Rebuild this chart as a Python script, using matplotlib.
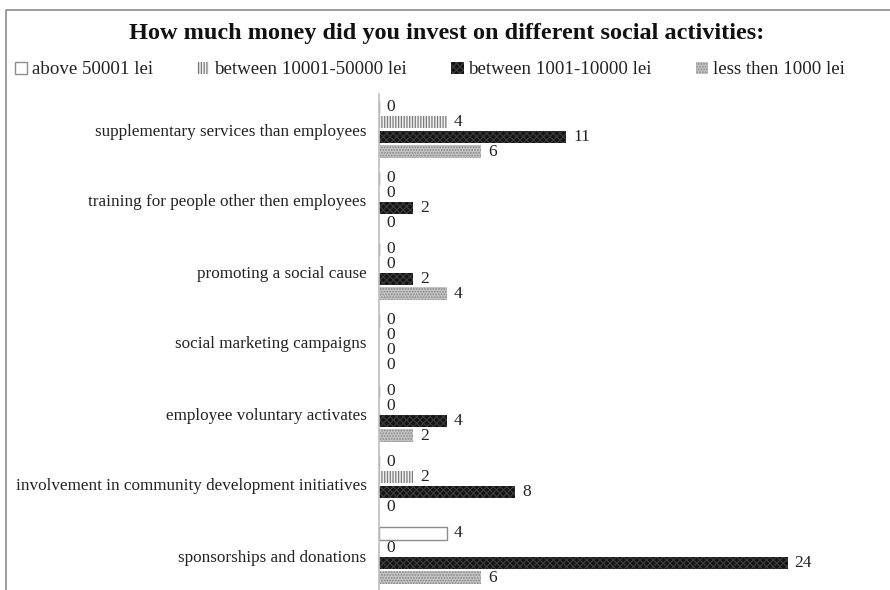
import numpy as np
import matplotlib
matplotlib.use('Agg')
import matplotlib.pyplot as plt
from matplotlib.lines import Line2D

plt.rcParams['font.family'] = ['Liberation Serif', 'DejaVu Serif']
plt.rcParams['hatch.linewidth'] = 0.9

categories = ['supplementary services than employees',
              'training for people other then employees',
              'promoting a social cause',
              'social marketing campaigns',
              'employee voluntary activates',
              'involvement in community development initiatives',
              'sponsorships and donations']
series = ['above 50001 lei', 'between 10001-50000 lei',
          'between 1001-10000 lei', 'less then 1000 lei']
above_50001 = [0, 0, 0, 0, 0, 0, 4]
between_10001_50000 = [4, 0, 0, 0, 0, 2, 0]
between_1001_10000 = [11, 2, 2, 0, 4, 8, 24]
less_1000 = [6, 0, 4, 0, 2, 0, 6]
values = [above_50001, between_10001_50000, between_1001_10000, less_1000]

styles = [
    dict(facecolor='white', edgecolor='#8c8c8c', hatch=None, linewidth=1.0),
    dict(facecolor='#f2f2f2', edgecolor='#7a7a7a', hatch='||||||', linewidth=0),
    dict(facecolor='#141414', edgecolor='#3a3a3a', hatch='xxxxx', linewidth=0),
    dict(facecolor='#c4c4c4', edgecolor='#8a8a8a', hatch='......', linewidth=0),
]

fig = plt.figure(figsize=(8.9, 5.9), dpi=100)
ax = fig.add_axes([379 / 890, -1 / 590, 1 - 379 / 890, 497 / 590])

y = np.arange(len(categories))
step = 0.21
bh = 0.18
handles = []
for i, (vals, st) in enumerate(zip(values, styles)):
    pos = y + (i - 1.5) * step
    bars = ax.barh(pos, vals, height=bh, **st, label=series[i])
    handles.append(bars)
    for p, v in zip(pos, vals):
        ax.annotate(str(v), (v, p), xytext=(5, 0), textcoords='offset points',
                    va='center', ha='left', fontsize=12.5, color='#222222')

ax.set_xlim(0, 30)
ax.set_ylim(len(categories) - 0.5, -0.5)
ax.set_yticks(y)
ax.set_yticklabels(categories, fontsize=12.3, color='#222222')
ax.tick_params(axis='y', length=0, pad=9)
ax.set_xticks([])
for s in ['top', 'right', 'bottom']:
    ax.spines[s].set_visible(False)
ax.spines['left'].set_color('#bfbfbf')
ax.spines['left'].set_linewidth(1.2)

fig.text(0.502, 1 - 33 / 590, 'How much money did you invest on different social activities:',
         ha='center', va='center', fontsize=17.5, fontweight='bold', color='#111111')

fig.legend(handles=handles, labels=series, loc='center', bbox_to_anchor=(0.483, 1 - 70 / 590),
           ncol=4, frameon=False, fontsize=13.6, handlelength=0.65, handleheight=0.65,
           handletextpad=0.25, columnspacing=2.35, labelcolor='#222222')

fig.add_artist(Line2D([6 / 890, 6 / 890, 1.0], [0.0, 1 - 10 / 590, 1 - 10 / 590],
                      transform=fig.transFigure, color='#8c8c8c', linewidth=1.2))

fig.savefig('out.png', dpi=100)
